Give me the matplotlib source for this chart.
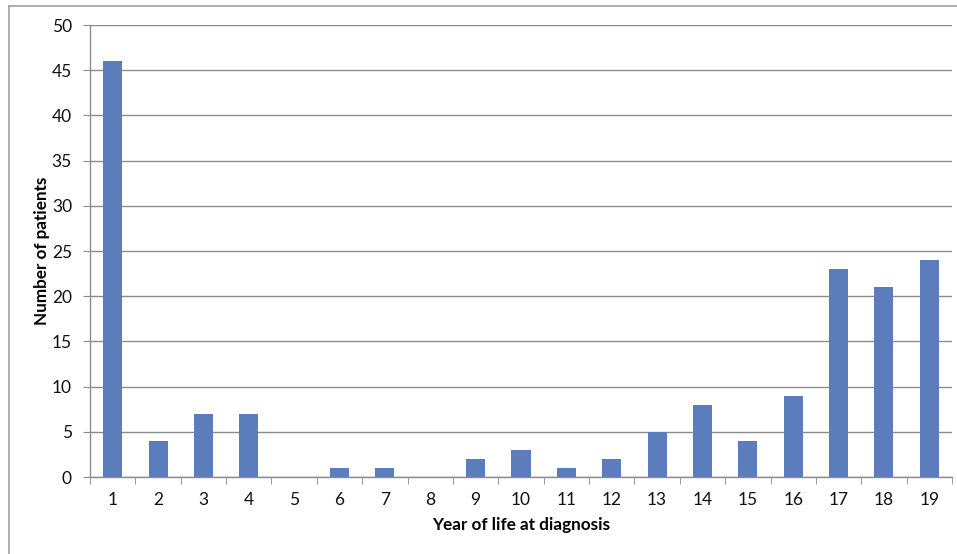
import matplotlib
matplotlib.use("Agg")
import matplotlib.pyplot as plt
from matplotlib.lines import Line2D
import numpy as np

years = [str(y) for y in range(1, 20)]
patients = [46, 4, 7, 7, 0, 1, 1, 0, 2, 3, 1, 2, 5, 8, 4, 9, 23, 21, 24]
y_ticks = [0, 5, 10, 15, 20, 25, 30, 35, 40, 45, 50]

plt.rcParams["font.family"] = ["Lato", "DejaVu Sans"]

W, H = 957, 554
fig = plt.figure(figsize=(W / 100, H / 100), dpi=100)
ax = fig.add_axes([90 / W, 1 - 477 / H, (952 - 90) / W, (477 - 25) / H])

x = np.arange(len(years))
ax.bar(x, patients, width=0.42, color="#5b7dbb", zorder=3)

ax.set_xlim(-0.5, len(years) - 0.5)
ax.set_ylim(0, 50)
ax.set_yticks(y_ticks)
ax.set_xticks(x)
ax.set_xticklabels(years)
ax.set_xticks(np.arange(len(years) + 1) - 0.5, minor=True)

ax.yaxis.grid(True, color="#8c8c8c", linewidth=1.0, zorder=0)
for s in ("top", "right"):
    ax.spines[s].set_visible(False)
for s in ("left", "bottom"):
    ax.spines[s].set_color("#8c8c8c")
    ax.spines[s].set_linewidth(1.0)

ax.tick_params(axis="x", which="major", length=0, pad=11, labelsize=12.5, colors="#111111")
ax.tick_params(axis="x", which="minor", length=5, color="#8c8c8c")
ax.tick_params(axis="y", length=5, color="#8c8c8c", labelsize=12.5, pad=8, labelcolor="#111111")

ax.set_xlabel("Year of life at diagnosis", fontsize=12.3, fontweight="bold", labelpad=6)
ax.set_ylabel("Number of patients", fontsize=12.3, fontweight="bold", labelpad=1)

# outer frame (left and top edges visible)
fig.add_artist(Line2D([9 / W, 9 / W], [0, 1 - 6 / H], color="#a0a0a0", linewidth=1.2))
fig.add_artist(Line2D([9 / W, 1], [1 - 6 / H, 1 - 6 / H], color="#a0a0a0", linewidth=1.2))

fig.savefig("out.png", dpi=100)
